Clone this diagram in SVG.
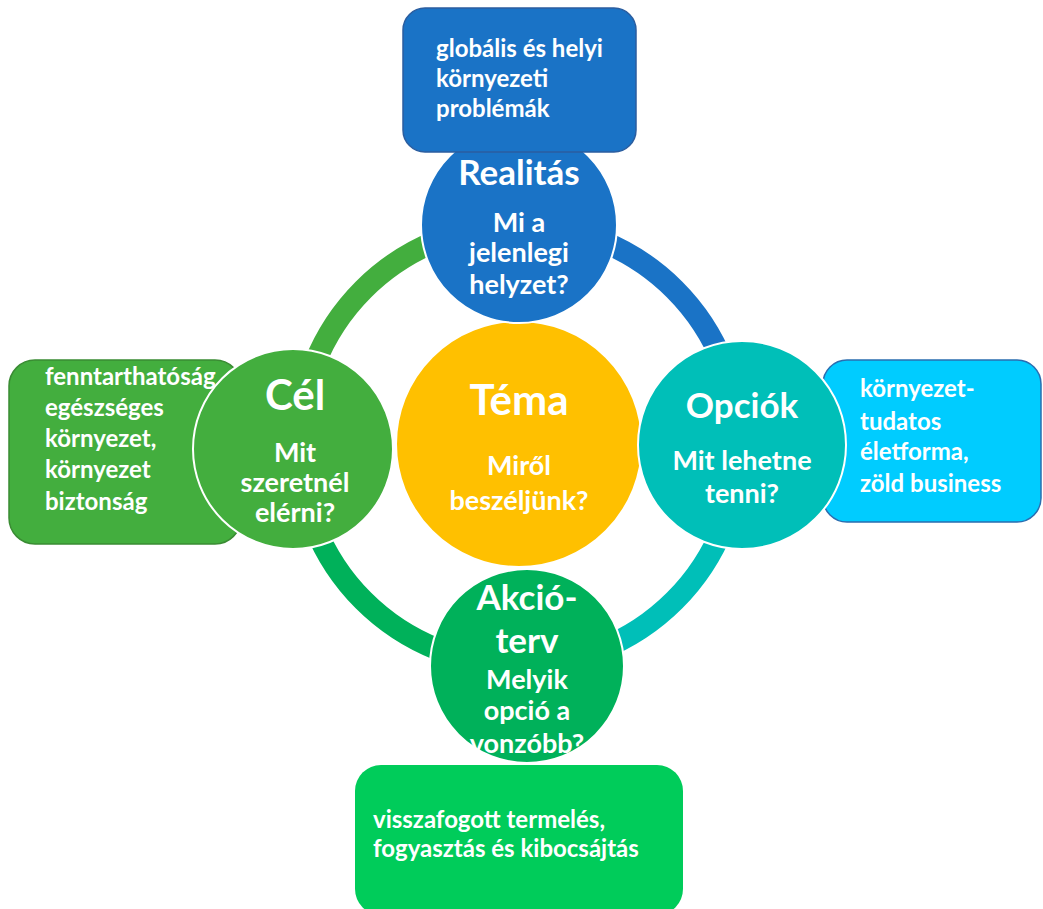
<svg xmlns="http://www.w3.org/2000/svg" width="1043" height="909" viewBox="0 0 1043 909">
<style>
text{font-family:Lato,"Open Sans","Liberation Sans",sans-serif;font-weight:bold;fill:#fff}
.t{font-size:35px;text-anchor:middle}
.tb{font-size:42px;text-anchor:middle}
.s{font-size:27px;text-anchor:middle}
.b{font-size:24px}
.ring{fill:none;stroke-width:22}
.c{stroke:#fff;stroke-width:2}
</style>
<rect width="1043" height="909" fill="#fff"/>
<g id="connectors">
<path class="ring" stroke="#43ae3e" d="M299,445 A220,220 0 0 1 519,225"/>
<path class="ring" stroke="#1a73c6" d="M519,225 A220,220 0 0 1 739,445"/>
<path class="ring" stroke="#00bfb8" d="M739,445 A220,220 0 0 1 519,665"/>
<path class="ring" stroke="#00b15a" d="M519,665 A220,220 0 0 1 299,445"/>
</g>
<g id="box-cel">
<rect x="9" y="360" width="232" height="184" rx="26" fill="#43ae3e" stroke="#3a8c33" stroke-width="1.5"/>
<text class="b" x="45" y="385">fenntarthatóság</text>
<text class="b" x="45" y="416">egészséges</text>
<text class="b" x="45" y="447">környezet,</text>
<text class="b" x="45" y="478">környezet</text>
<text class="b" x="45" y="510">biztonság</text>
</g>
<g id="box-opciok">
<rect x="823" y="360" width="218" height="162" rx="24" fill="#00ccff" stroke="#2a6db0" stroke-width="1.5"/>
<text class="b" x="860" y="397">környezet-</text>
<text class="b" x="860" y="430">tudatos</text>
<text class="b" x="860" y="460">életforma,</text>
<text class="b" x="860" y="492">zöld business</text>
</g>
<g id="box-akcio">
<rect x="355" y="765" width="328" height="150" rx="26" fill="#00cc5a"/>
<text class="b" x="373" y="828">visszafogott termelés,</text>
<text class="b" x="373" y="857">fogyasztás és kibocsájtás</text>
</g>
<g id="tema">
<circle class="c" cx="519" cy="444" r="123" fill="#ffc000"/>
<text class="tb" x="519" y="415">Téma</text>
<text class="s" x="519" y="475">Miről</text>
<text class="s" x="519" y="510">beszéljünk?</text>
</g>
<g id="cel">
<circle class="c" cx="293" cy="449" r="100" fill="#43ae3e"/>
<text class="tb" x="295" y="410">Cél</text>
<text class="s" x="295" y="462">Mit</text>
<text class="s" x="295" y="492">szeretnél</text>
<text class="s" x="295" y="522">elérni?</text>
</g>
<g id="opciok">
<circle class="c" cx="742" cy="445" r="104" fill="#00bfb8"/>
<text class="t" x="742" y="418">Opciók</text>
<text class="s" x="742" y="470">Mit lehetne</text>
<text class="s" x="742" y="503">tenni?</text>
</g>
<g id="akcio">
<circle class="c" cx="527" cy="666" r="97" fill="#00b15a"/>
<text class="t" x="527" y="610">Akció-</text>
<text class="t" x="527" y="653">terv</text>
<text class="s" x="527" y="689">Melyik</text>
<text class="s" x="527" y="720">opció a</text>
<text class="s" x="527" y="753">vonzóbb?</text>
</g>
<g id="realitas">
<circle class="c" cx="519" cy="225" r="98" fill="#1a73c6"/>
<text class="t" x="519" y="185">Realitás</text>
<text class="s" x="519" y="232">Mi a</text>
<text class="s" x="519" y="262">jelenlegi</text>
<text class="s" x="519" y="294">helyzet?</text>
</g>
<g id="box-realitas">
<rect x="403" y="8" width="233" height="144" rx="22" fill="#1a73c6" stroke="#2b5ea0" stroke-width="1.5"/>
<text class="b" x="436" y="57">globális és helyi</text>
<text class="b" x="436" y="87">környezeti</text>
<text class="b" x="436" y="117">problémák</text>
</g>
</svg>
